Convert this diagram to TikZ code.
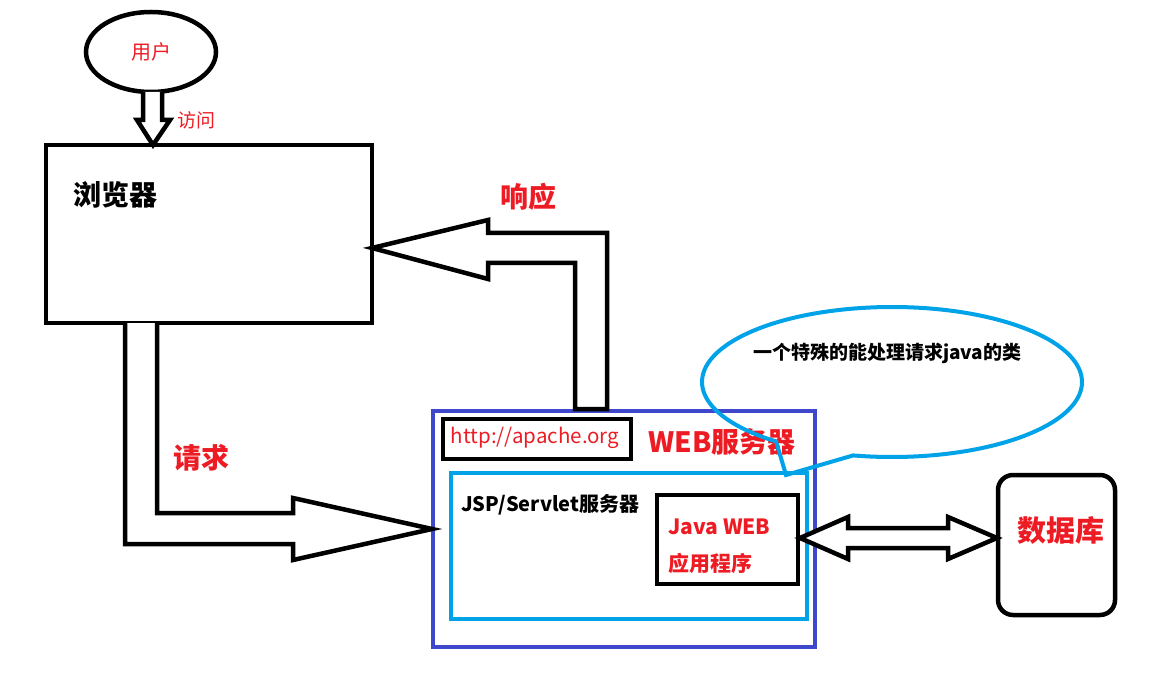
\documentclass[tikz,border=0pt]{standalone}
\usepackage{fontspec}
\setmainfont{Noto Sans CJK SC}
\usepackage{xcolor}
\usetikzlibrary{calc,shapes.geometric}
\definecolor{webblue}{RGB}{63,72,204}
\definecolor{skyblue}{RGB}{0,162,232}
\definecolor{paintred}{RGB}{237,28,36}
\tikzset{
  box/.style={draw, line width=4.5pt, inner sep=0pt},
  blockarrow/.style={draw, line width=4.5pt, fill=white, line join=miter},
  redlabel/.style={text=paintred, inner sep=0pt, anchor=west, font=\bfseries\fontsize{28}{30}\selectfont},
}
\begin{document}
\begin{tikzpicture}[x=1pt,y=-1pt]
\useasboundingbox (0,0) rectangle (1155,692);
%% user and browser
\node[ellipse, draw, line width=4.5pt, minimum width=130, minimum height=80, text=paintred, font=\fontsize{20}{22}\selectfont] (user) at (151,52) {用户};
\node[box, minimum width=326, minimum height=178] (browser) at (209,234) {};
\node[inner sep=0pt, anchor=west, font=\bfseries\fontsize{28}{30}\selectfont] (browsertext) at (73,195) {浏览器};
\node[inner sep=0pt, anchor=west, text=paintred, font=\fontsize{19}{21}\selectfont] (visit) at (177,120) {访问};
%% user -> browser
\draw[blockarrow] (143,92) -- (143,120) -- (137,120) -- (153,145) -- (170,120) -- (162,120) -- (162,92);
%% servers
\node[draw=webblue, line width=4pt, inner sep=0pt, minimum width=382, minimum height=236] (web) at (624,529) {};
\node[box, minimum width=188, minimum height=40] (url) at (537,439) {};
\node[inner sep=0pt, text=paintred, font=\fontsize{20.5}{22}\selectfont] (urltext) at (535,438) {http://apache.org};
\node[redlabel] (webtext) at (648,442) {WEB服务器};
\node[draw=skyblue, line width=4pt, inner sep=0pt, minimum width=356, minimum height=146] (jsp) at (629,546) {};
\node[inner sep=0pt, anchor=west, font=\bfseries\fontsize{20}{22}\selectfont] (jsptext) at (461,505) {JSP/Servlet服务器};
\node[box, minimum width=141, minimum height=89] (app) at (727.5,539.5) {};
\node[inner sep=0pt, anchor=west, text=paintred, font=\bfseries\fontsize{21}{23}\selectfont] (apptext) at (668,527) {Java WEB};
\node[inner sep=0pt, anchor=west, text=paintred, font=\bfseries\fontsize{21}{23}\selectfont] (apptext2) at (668,563) {应用程序};
%% database
\node[box, rounded corners=15pt, minimum width=117, minimum height=140] (db) at (1056.5,545) {};
\node[redlabel, font=\bfseries\fontsize{29}{31}\selectfont] (dbtext) at (1017,530) {数据库};
%% response
\draw[blockarrow] (575,409) -- (575,263) -- (488,263) -- (488,279) -- (372,248) -- (488,220) -- (488,233) -- (607,233) -- (607,409) -- cycle;
\node[redlabel] (resp) at (500,197) {响应};
%% request
\draw[blockarrow] (125,323) -- (125,544) -- (293,544) -- (293,560) -- (432,529) -- (293,498) -- (293,513) -- (157,513) -- (157,323);
\node[redlabel] (req) at (173,458) {请求};
%% app <-> database
\draw[blockarrow] (800,538) -- (848,517) -- (848,528) -- (948,528) -- (948,517) -- (997,538) -- (948,559) -- (948,548) -- (848,548) -- (848,559) -- cycle;
%% speech bubble
\draw[skyblue, line width=4pt, line join=miter] (786,475) -- ([shift={(892,382)}]127.6:190 and 75) arc[start angle=127.6, end angle=461.8, x radius=190, y radius=75] -- cycle;
\node[inner sep=0pt, anchor=west, font=\bfseries\fontsize{19}{21}\selectfont] (bubbletext) at (753,353) {一个特殊的能处理请求java的类};
\end{tikzpicture}
\end{document}
